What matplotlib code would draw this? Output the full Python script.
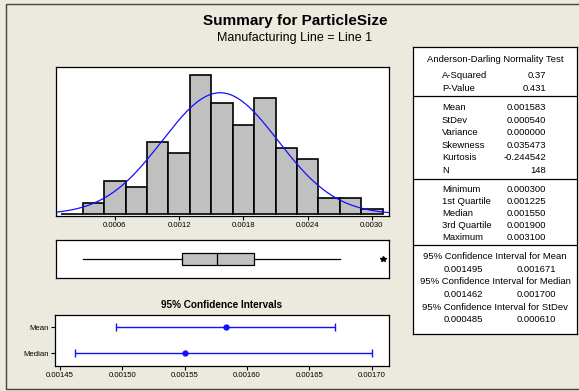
import numpy as np
import matplotlib
matplotlib.use("Agg")
import matplotlib.pyplot as plt
from matplotlib.patches import Rectangle
from matplotlib.lines import Line2D

plt.rcParams["font.family"] = ["Liberation Sans", "DejaVu Sans"]

# histogram of particle size (bin edges and counts)
bin_edges = np.round(np.arange(0.0001, 0.00311, 0.0002), 5)
bin_counts = [0, 2, 6, 5, 13, 11, 25, 20, 16, 21, 12, 10, 3, 3, 1]

n_obs = 148
mean_val = 0.001583
stdev_val = 0.000540

# boxplot summary
box_whislo = 0.000300
box_q1 = 0.001225
box_med = 0.001550
box_q3 = 0.001900
box_whishi = 0.002700
box_fliers = [0.003100]

# 95% confidence intervals
ci_names = ["Median", "Mean"]
ci_centers = [0.001550, 0.001583]
ci_lows = [0.001462, 0.001495]
ci_highs = [0.001700, 0.001671]

hist_ticks = [0.0006, 0.0012, 0.0018, 0.0024, 0.0030]
ci_ticks = [0.00145, 0.00150, 0.00155, 0.00160, 0.00165, 0.00170]

ad_rows = [("A-Squared", "0.37"), ("P-Value", "0.431")]
moment_rows = [
    ("Mean", "0.001583"),
    ("StDev", "0.000540"),
    ("Variance", "0.000000"),
    ("Skewness", "0.035473"),
    ("Kurtosis", "-0.244542"),
    ("N", "148"),
]
quantile_rows = [
    ("Minimum", "0.000300"),
    ("1st Quartile", "0.001225"),
    ("Median", "0.001550"),
    ("3rd Quartile", "0.001900"),
    ("Maximum", "0.003100"),
]
interval_rows = [
    ("95% Confidence Interval for Mean", "0.001495", "0.001671"),
    ("95% Confidence Interval for Median", "0.001462", "0.001700"),
    ("95% Confidence Interval for StDev", "0.000485", "0.000610"),
]

W, H = 579, 391
bg = "#ECE9DF"
gray = "#C0C0C0"
blue = "#1010FF"


def rect(x0, y0, x1, y1):
    # pixel box (top-left origin) -> figure fraction
    return [x0 / W, 1 - y1 / H, (x1 - x0) / W, (y1 - y0) / H]


fig = plt.figure(figsize=(W / 100, H / 100), dpi=100, facecolor=bg)

fig.add_artist(Rectangle((6 / W, 2 / H), 600 / W, 385 / H, transform=fig.transFigure,
                         fill=False, edgecolor="#444444", linewidth=1.0))

fig.text(295 / W, 1 - 21 / H, "Summary for ParticleSize", ha="center", va="center",
         fontsize=11, fontweight="bold")
fig.text(295 / W, 1 - 38 / H, "Manufacturing Line = Line 1", ha="center", va="center",
         fontsize=9)

# histogram with fitted normal curve
ax_h = fig.add_axes(rect(56, 67, 389, 216))
ax_h.bar(bin_edges[:-1], bin_counts, width=np.diff(bin_edges), align="edge",
         color=gray, edgecolor="black", linewidth=1.2)
xlim = (0.00005, 0.00316)
xs = np.linspace(xlim[0], xlim[1], 300)
bw = bin_edges[1] - bin_edges[0]
pdf = n_obs * bw * np.exp(-0.5 * ((xs - mean_val) / stdev_val) ** 2) / (stdev_val * np.sqrt(2 * np.pi))
ax_h.plot(xs, pdf, color=blue, linewidth=0.9)
ax_h.set_xlim(*xlim)
ax_h.set_ylim(-0.3, 26.5)
ax_h.set_yticks([])
ax_h.set_xticks(hist_ticks)
ax_h.set_xticklabels([f"{t:.4f}" for t in hist_ticks])
ax_h.tick_params(axis="x", labelsize=5.6, length=3, pad=1.5)

# boxplot
ax_b = fig.add_axes(rect(56, 240, 389, 278))
ax_b.bxp([{"whislo": box_whislo, "q1": box_q1, "med": box_med, "q3": box_q3,
           "whishi": box_whishi, "fliers": box_fliers}],
         vert=False, widths=0.3, patch_artist=True, showcaps=False,
         boxprops=dict(facecolor=gray, edgecolor="black", linewidth=0.9),
         medianprops=dict(color="black", linewidth=0.9),
         whiskerprops=dict(color="black", linewidth=0.9),
         flierprops=dict(marker="*", markersize=4, markerfacecolor="black",
                         markeredgecolor="black"))
ax_b.set_xlim(*xlim)
ax_b.set_ylim(0.5, 1.5)
ax_b.set_xticks([])
ax_b.set_yticks([])

# confidence intervals
fig.text(222 / W, 1 - 305 / H, "95% Confidence Intervals", ha="center", va="center",
         fontsize=7.2, fontweight="bold")
ax_c = fig.add_axes(rect(55, 315, 389, 366))
ypos = np.arange(len(ci_names))
ci_centers = np.array(ci_centers)
err = [ci_centers - np.array(ci_lows), np.array(ci_highs) - ci_centers]
ax_c.errorbar(ci_centers, ypos, xerr=err, fmt="o", color=blue, markersize=3.5,
              elinewidth=1.0, capsize=3, capthick=1.0)
ax_c.set_xlim(0.001446, 0.001714)
ax_c.set_ylim(-0.48, 1.46)
ax_c.set_yticks(ypos)
ax_c.set_yticklabels(ci_names)
ax_c.set_xticks(ci_ticks)
ax_c.set_xticklabels([f"{t:.5f}" for t in ci_ticks])
ax_c.tick_params(labelsize=5.6, length=3, pad=1.5)

for ax in (ax_h, ax_b, ax_c):
    for s in ax.spines.values():
        s.set_linewidth(0.9)

# summary statistics table
ax_t = fig.add_axes(rect(413, 47, 577, 334))
ax_t.set_xlim(413, 577)
ax_t.set_ylim(334, 47)
ax_t.set_xticks([])
ax_t.set_yticks([])
for s in ax_t.spines.values():
    s.set_linewidth(0.9)

fs = 6.8
lx, rx, cx = 442, 546, 495
ax_t.text(cx, 60, "Anderson-Darling Normality Test", ha="center", va="center", fontsize=fs)
y = 75
for name, val in ad_rows:
    ax_t.text(lx, y, name, va="center", fontsize=fs)
    ax_t.text(rx, y, val, va="center", ha="right", fontsize=fs)
    y += 13.5
ax_t.add_line(Line2D([413, 577], [96, 96], color="black", linewidth=0.9))
y = 107.5
for name, val in moment_rows:
    ax_t.text(lx, y, name, va="center", fontsize=fs)
    ax_t.text(rx, y, val, va="center", ha="right", fontsize=fs)
    y += 12.6
ax_t.add_line(Line2D([413, 577], [179, 179], color="black", linewidth=0.9))
y = 190
for name, val in quantile_rows:
    ax_t.text(lx, y, name, va="center", fontsize=fs)
    ax_t.text(rx, y, val, va="center", ha="right", fontsize=fs)
    y += 11.9
ax_t.add_line(Line2D([413, 577], [245, 245], color="black", linewidth=0.9))
y = 256.5
for title, lo, hi in interval_rows:
    ax_t.text(cx, y, title, va="center", ha="center", fontsize=fs)
    ax_t.text(463, y + 12.5, lo, va="center", ha="center", fontsize=fs)
    ax_t.text(536, y + 12.5, hi, va="center", ha="center", fontsize=fs)
    y += 25.5

fig.savefig("out.png", dpi=100, facecolor=bg)
